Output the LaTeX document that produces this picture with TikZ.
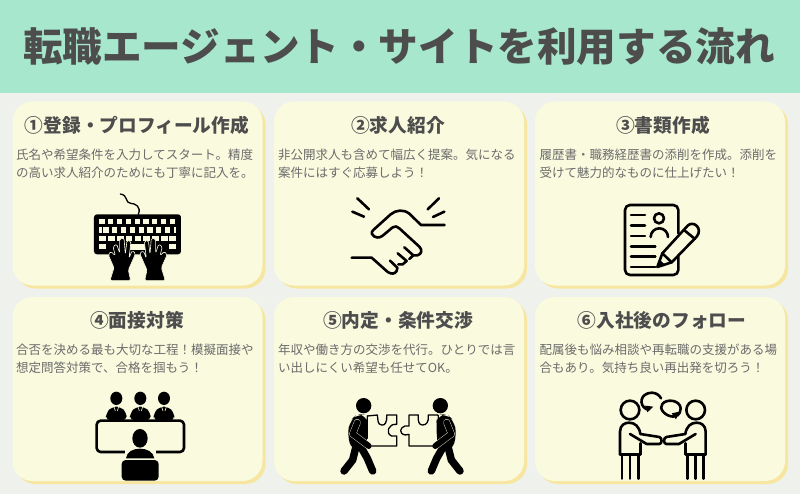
\documentclass[tikz,border=0pt]{standalone}
\usepackage{fontspec}
\setmainfont{Noto Sans CJK JP}
\usetikzlibrary{arrows.meta}
\definecolor{pagebg}{HTML}{EFF2EC}
\definecolor{headbg}{HTML}{A6E7CD}
\definecolor{cardbg}{HTML}{FAFADF}
\definecolor{cardsh}{HTML}{F7E6A0}
\definecolor{titlecol}{HTML}{4D4D4D}
\definecolor{bodycol}{HTML}{6B6B6B}
\tikzset{
 cardface/.style={fill=cardbg,rounded corners=20pt},
 cardshade/.style={fill=cardsh,rounded corners=20pt},
 cardtitle/.style={anchor=center,inner sep=0pt,text=titlecol,font=\fontsize{18.7}{20}\selectfont\bfseries},
 cardbody/.style={anchor=north west,inner sep=0pt,align=left,text=bodycol,font=\fontsize{12.5}{17.4}\selectfont},
 inkline/.style={draw=black,line width=2.6pt,line cap=round,line join=round},
 thinink/.style={draw=black,line width=1.3pt,line cap=round,line join=round},
}
\newcommand{\cardat}[2]{%
 \fill[cardshade] (#1+3,#2+3) rectangle (#1+253,#2+187);
 \fill[cardface] (#1,#2) rectangle (#1+250,#2+184);}
\newcommand{\keyhand}{%
 \fill[black,draw=cardbg,line width=.6pt,rounded corners=1.5pt] (330,557) -- (342,518) -- (325,480) -- (332,469) -- (346,482) -- (339,455) -- (350,447) -- (359,475) -- (359,432) -- (372,429) -- (376,478) -- (381,436) -- (393,439) -- (387,490) -- (396,467) -- (407,475) -- (385,525) -- (392,557) -- cycle;}
\newcommand{\puzzleman}{%
 \fill[black] (281,347) circle[radius=23];
 \fill[black,rounded corners=8pt] (262,372) -- (240,392) -- (232,435) -- (246,482) -- (288,482) -- (294,400) -- (288,375) -- cycle;
 \draw[black,line width=7.5pt,line cap=round,line join=round] (258,470) -- (248,510) -- (222,543);
 \draw[black,line width=7.5pt,line cap=round,line join=round] (272,470) -- (292,505) -- (308,543);
 \draw[cardbg,line width=6.8pt,line cap=round,line join=round] (262,397) -- (248,432) -- (296,468);
 \draw[black,line width=6pt,line cap=round,line join=round] (262,397) -- (248,432) -- (296,468);}
\newcommand{\teamman}{%
 \draw[inkline] (300,360) circle[radius=28];
 \draw[inkline] (270,493) -- (270,425) .. controls (270,405) and (285,398) .. (297,398) .. controls (315,398) and (328,410) .. (331,432) -- (388,441) .. controls (397,443) and (397,462) .. (388,462) -- (350,462) -- (300,432);
 \draw[inkline] (331,460) -- (331,493) -- (270,493);
 \draw[inkline] (276,493) -- (276,566) (300,493) -- (300,566) (325,493) -- (325,566);}
\begin{document}
\begin{tikzpicture}[x=1pt,y=-1pt]
\useasboundingbox (0,0) rectangle (800,494);
\fill[pagebg] (0,0) rectangle (800,494);
\fill[headbg] (0,0) rectangle (800,93);
\node[anchor=center,inner sep=0pt,text=titlecol,font=\fontsize{39.6}{42}\selectfont\bfseries] (maintitle) at (399,47) {転職エージェント・サイトを利用する流れ};
% cards
\cardat{12.5}{101.5}\cardat{274}{101.5}\cardat{535}{101.5}
\cardat{12.5}{297}\cardat{274}{297}\cardat{535}{297}
% texts
\node[cardtitle] (t1) at (137,125) {①登録・プロフィール作成};
\node[cardtitle] (t2) at (398,125) {②求人紹介};
\node[cardtitle] (t3) at (663,125) {③書類作成};
\node[cardtitle] (t4) at (137,320) {④面接対策};
\node[cardtitle] (t5) at (398,320) {⑤内定・条件交渉};
\node[cardtitle] (t6) at (662,320) {⑥入社後のフォロー};
\node[cardbody] (b1) at (16,149) {氏名や希望条件を入力してスタート。精度\\の高い求人紹介のためにも丁寧に記入を。};
\node[cardbody] (b2) at (278,149) {非公開求人も含めて幅広く提案。気になる\\案件にはすぐ応募しよう！};
\node[cardbody] (b3) at (539.5,149) {履歴書・職務経歴書の添削を作成。添削を\\受けて魅力的なものに仕上げたい！};
\node[cardbody] (b4) at (16,344) {合否を決める最も大切な工程！模擬面接や\\想定問答対策で、合格を掴もう！};
\node[cardbody] (b5) at (278,344) {年収や働き方の交渉を代行。ひとりでは言\\い出しにくい希望も任せてOK。};
\node[cardbody] (b6) at (539.5,344) {配属後も悩み相談や再転職の支援がある場\\合もあり。気持ち良い再出発を切ろう！};
% keyboard
\begin{scope}[shift={(0,95)},x=.33333pt,y=-.33333pt]
 \draw[black,line width=1.3pt,line cap=round] (415,358) .. controls (425,335) and (405,325) .. (392,325) .. controls (375,325) and (385,300) .. (361,297);
 \fill[black,rounded corners=3pt] (282,358) rectangle (543,478);
 \foreach \i in {0,...,8} \fill[cardbg] (298+\i*26.4,372) rectangle +(16,16);
 \foreach \i in {0,...,7} \fill[cardbg] (310+\i*26.4,397) rectangle +(16,16);
 \fill[cardbg] (298,397) rectangle (305,413);
 \fill[cardbg] (521,397) rectangle (528,413);
 \foreach \i in {0,...,7} \fill[cardbg] (298+\i*26.4,422) rectangle +(20,16);
 \fill[cardbg] (508,422) rectangle (528,438);
 \fill[cardbg] (298,447) rectangle (318,463);
 \fill[cardbg] (378,447) rectangle (448,465);
 \fill[cardbg] (508,447) rectangle (528,463);
 \keyhand
 \begin{scope}[shift={(826,0)},x=-.33333pt]\keyhand\end{scope}
\end{scope}
% handshake
\begin{scope}[shift={(270,95)},x=.33333pt,y=-.33333pt]
 \draw[inkline] (262,310) -- (297,343) (247,350) -- (282,365) (507,310) -- (473,343) (523,350) -- (489,366);
 \draw[inkline] (524,390) -- (453,390) -- (418,356) .. controls (400,342) and (378,345) .. (362,358) -- (310,405) .. controls (302,412) and (305,420) .. (312,424) .. controls (325,432) and (335,425) .. (343,418) -- (368,397) .. controls (375,392) and (382,394) .. (388,400) -- (448,455) .. controls (458,465) and (455,478) .. (442,481) -- (430,481);
 \draw[inkline] (245,488) -- (305,488) -- (352,530) .. controls (362,538) and (375,538) .. (380,528) -- (382,518);
 \draw[inkline] (403,457) -- (430,481) -- (418,492) (383,475) -- (410,498) -- (398,508) -- (385,508) (360,497) -- (382,518);
\end{scope}
% resume
\begin{scope}[shift={(530,95)},x=.33333pt,y=-.33333pt]
 \draw[inkline,rounded corners=5pt] (445,415) -- (445,330) -- (285,330) -- (285,540) -- (445,540) -- (445,470);
 \draw[inkline] (303,360) -- (345,360) (303,392) -- (345,392) (303,423) -- (345,423) (303,454) -- (376,454) (303,485) -- (376,485) (303,516) -- (376,516);
 \draw[inkline] (387,370) circle[radius=15];
 \draw[inkline] (362,426) arc[start angle=180,end angle=360,radius=26];
 \draw[inkline,fill=cardbg] (382,516) -- (397,475) -- (473,392) .. controls (490,375) and (520,400) .. (500,425) -- (425,502) -- cycle;
 \draw[inkline] (397,475) -- (425,502) (462,405) -- (495,432);
 \fill[black] (382,516) -- (389,494) -- (405,509) -- cycle;
\end{scope}
% interview
\begin{scope}[shift={(0,290)},x=.33333pt,y=-.33333pt]
 \foreach \cx in {349,421,492}{
  \fill[black] (\cx,325) ellipse[x radius=18,y radius=20];
  \fill[black,rounded corners=5pt] (\cx-31,392) -- (\cx-31,368) -- (\cx-12,350) -- (\cx+12,350) -- (\cx+31,368) -- (\cx+31,392) -- cycle;
  \draw[cardbg,line width=.6pt] (\cx-7,350) -- (\cx-3,363) (\cx+7,350) -- (\cx+3,363);
 }
 \draw[inkline,fill=cardbg,rounded corners=4pt] (290,392) rectangle (552,486);
 \fill[cardbg] (375,470) rectangle (467,515);
 \fill[black] (420,445) ellipse[x radius=23,y radius=28];
 \fill[black] (378,505) .. controls (380,485) and (400,476) .. (420,476) .. controls (440,476) and (460,485) .. (463,505) -- cycle;
 \fill[black,rounded corners=4pt] (365,510) rectangle (476,572);
\end{scope}
% puzzle
\begin{scope}[shift={(270,290)},x=.33333pt,y=-.33333pt]
 \puzzleman
 \begin{scope}[shift={(792,0)},x=-.33333pt]\puzzleman\end{scope}
 \draw[thinink] (292,378) -- (322,375) .. controls (325,395) and (322,402) .. (335,405) .. controls (345,408) and (352,395) .. (350,375) -- (380,375) -- (380,403) .. controls (355,400) and (345,430) .. (365,438) -- (380,438) -- (380,468) -- (305,468);
 \draw[thinink] (505,378) -- (503,375) -- (475,375) .. controls (477,395) and (470,405) .. (458,405) .. controls (447,405) and (443,395) .. (445,375) -- (417,375) -- (417,408) .. controls (400,403) and (385,420) .. (395,430) .. controls (403,437) and (410,435) .. (417,433) -- (417,468) -- (490,468);
 \draw[thinink] (292,378) -- (292,445) (505,378) -- (505,445);
\end{scope}
% team
\begin{scope}[shift={(530,290)},x=.33333pt,y=-.33333pt]
 \teamman
 \begin{scope}[shift={(797,0)},x=-.33333pt]\teamman\end{scope}
 \draw[inkline] (350,358) .. controls (325,345) and (330,310) .. (365,308) .. controls (380,308) and (390,318) .. (393,325);
 \fill[black] (345,347) -- (370,350) -- (352,367) -- cycle;
 \draw[inkline] (432,380) .. controls (405,380) and (385,355) .. (397,342) .. controls (410,325) and (450,330) .. (452,355) .. controls (452,365) and (448,372) .. (442,377);
 \fill[black] (425,370) -- (448,365) -- (438,388) -- cycle;
\end{scope}
\end{tikzpicture}
\end{document}
